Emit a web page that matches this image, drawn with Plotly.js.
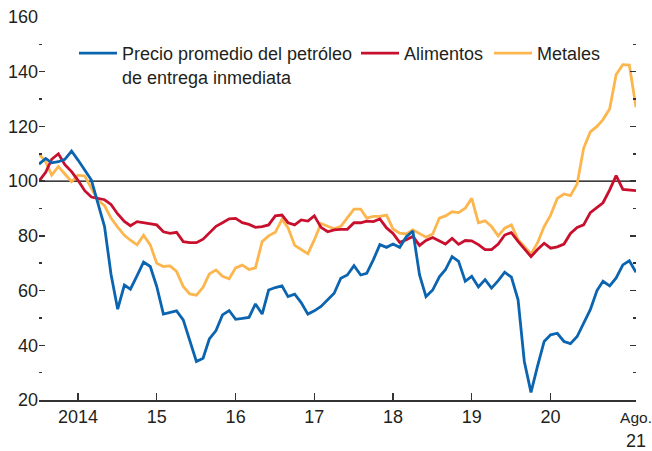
<!DOCTYPE html>
<html>
<head>
<meta charset="utf-8">
<script src="https://cdn.plot.ly/plotly-3.0.1.min.js"></script>
<style>
  html, body { margin: 0; padding: 0; background: #fff; }
  #chart { width: 652px; height: 451px; }
</style>
</head>
<body>
<div id="chart"></div>
<script>
// Monthly series, Jan 2014 – Aug 2021
const startYear = 2014, startMonth = 1;

const oil = [
  106.2, 108.3, 106.7, 107.1, 108.0, 111.0, 107.7, 104.0, 100.4, 92.0, 83.4, 66.0,
  53.2, 62.0, 60.5, 65.5, 70.4, 68.8, 61.5, 51.4, 52.0, 52.6, 49.3, 42.0,
  34.1, 35.3, 42.3, 45.4, 51.1, 52.7, 49.5, 49.8, 50.2, 55.1, 51.4, 60.2,
  61.1, 61.7, 57.8, 58.7, 55.6, 51.4, 52.6, 54.2, 56.6, 59.0, 64.5, 65.7,
  69.1, 65.7, 66.3, 71.3, 76.8, 75.8, 77.0, 75.8, 79.7, 81.8, 65.7, 57.8,
  60.2, 65.0, 67.6, 72.4, 70.7, 63.4, 65.2, 61.3, 64.0, 60.9, 63.6, 66.7,
  64.9, 56.6, 34.1, 22.8, 32.3, 41.4, 43.8, 44.4, 41.4, 40.6, 43.2, 48.3,
  53.0, 60.0, 63.4, 61.7, 64.6, 69.4, 70.9, 66.7
];

const food = [
  100.0, 103.2, 108.0, 110.0, 106.0, 103.5, 100.3, 96.5, 94.2, 93.7, 93.2, 91.5,
  88.0, 85.3, 83.7, 85.2, 84.8, 84.3, 84.0, 81.5, 80.9, 81.3, 77.9, 77.5,
  77.5, 78.8, 81.0, 83.5, 84.8, 86.2, 86.4, 84.8, 84.2, 83.1, 83.4, 84.0,
  87.3, 87.6, 84.8, 84.0, 85.8, 85.4, 87.3, 83.1, 81.5, 82.2, 82.4, 82.4,
  84.8, 84.8, 85.4, 85.2, 86.2, 82.9, 80.9, 77.6, 78.6, 79.8, 76.5, 78.3,
  79.4, 78.2, 77.0, 79.1, 76.9, 78.3, 78.2, 76.8, 75.0, 75.0, 77.0, 80.3,
  81.2, 78.0, 75.1, 72.4, 75.0, 77.3, 75.5, 76.0, 77.0, 80.9, 83.1, 84.0,
  88.5, 90.4, 92.1, 96.8, 102.0, 97.0, 96.8, 96.5
];

const metals = [
  110.0, 107.0, 102.2, 105.3, 102.6, 99.8, 102.2, 101.9, 97.4, 93.1, 91.0, 86.5,
  83.2, 80.2, 78.4, 76.7, 80.2, 76.7, 70.0, 68.8, 69.0, 67.0, 61.5, 58.8,
  58.3, 61.2, 66.1, 67.5, 65.2, 64.3, 68.3, 69.3, 67.7, 68.3, 77.9, 80.0,
  81.3, 86.0, 83.0, 76.5, 75.0, 73.5, 78.5, 84.5, 83.5, 82.6, 83.5, 86.5,
  89.8, 89.8, 86.5, 87.1, 87.1, 87.6, 82.5, 81.0, 80.7, 82.2, 80.7, 79.5,
  80.7, 86.5, 87.3, 88.8, 88.5, 90.1, 93.7, 84.8, 85.5, 83.4, 80.0, 82.8,
  84.0, 78.6, 76.1, 73.4, 77.4, 83.4, 87.6, 93.7, 95.3, 94.7, 99.0, 112.0,
  118.0, 120.0, 122.5, 126.5, 139.0, 142.6, 142.4, 127.0
];

const seriesNames = [
  'Precio promedio del petróleo<br>de entrega inmediata',
  'Alimentos',
  'Metales'
];

const xTickVals = ['2014-07-01', '2015-07-01', '2016-07-01', '2017-07-01',
                   '2018-07-01', '2019-07-01', '2020-07-01', '2021-08-01'];
const xTickText = ['2014', '15', '16', '17', '18', '19', '20',
                   '<span style="font-size:15.5px">Ago.</span><br>21'];
const yTickVals = [20, 40, 60, 80, 100, 120, 140, 160];
const referenceLevel = 100;

function monthDates(n) {
  const out = [];
  for (let i = 0; i < n; i++) {
    const y = startYear + Math.floor((startMonth - 1 + i) / 12);
    const m = ((startMonth - 1 + i) % 12) + 1;
    out.push(y + '-' + String(m).padStart(2, '0') + '-01');
  }
  return out;
}
const dates = monthDates(oil.length);

const colors = { oil: '#0b64b0', food: '#c8102e', metals: '#fcb64d' };
const txt = '#231f20';
const fontFam = 'Arial, "Liberation Sans", sans-serif';

const traces = [
  { x: dates, y: metals, name: seriesNames[2], type: 'scatter', mode: 'lines',
    line: { color: colors.metals, width: 2.8 }, legend: 'legend3' },
  { x: dates, y: food, name: seriesNames[1], type: 'scatter', mode: 'lines',
    line: { color: colors.food, width: 2.8 }, legend: 'legend2' },
  { x: dates, y: oil, name: seriesNames[0], type: 'scatter', mode: 'lines',
    line: { color: colors.oil, width: 2.8 }, legend: 'legend' }
];

const legBase = {
  xanchor: 'left', yanchor: 'top', bgcolor: 'rgba(0,0,0,0)',
  font: { family: fontFam, size: 18, color: txt }, valign: 'top',
  borderwidth: 0, itemwidth: 38
};

const layout = {
  width: 652, height: 451,
  margin: { l: 39, r: 16, t: 17, b: 51 },
  paper_bgcolor: '#fff', plot_bgcolor: '#fff',
  font: { family: fontFam, size: 18, color: txt },
  showlegend: true,
  legend: Object.assign({}, legBase, { x: 0.0586, y: 0.953 }),
  legend2: Object.assign({}, legBase, { x: 0.531, y: 0.953 }),
  legend3: Object.assign({}, legBase, { x: 0.7538, y: 0.953 }),
  xaxis: {
    type: 'date',
    range: ['2014-01-01', '2021-08-01'],
    tickmode: 'array', tickvals: xTickVals, ticktext: xTickText,
    ticks: 'inside', ticklen: 7, tickwidth: 1.5, tickcolor: '#333',
    showline: true, linecolor: '#333', linewidth: 1.5,
    showgrid: false, zeroline: false,
    ticklabeloverflow: 'allow',
    tickfont: { family: fontFam, size: 18, color: txt }
  },
  yaxis: {
    range: [20, 160],
    tickmode: 'array', tickvals: yTickVals,
    ticks: 'inside', ticklen: 6, tickwidth: 1.5, tickcolor: '#333',
    mirror: 'ticks',
    minor: { ticks: 'inside', ticklen: 3, tickwidth: 1.5, tickcolor: '#333', dtick: 10, tick0: 20, showgrid: false },
    showline: false, showgrid: false, zeroline: false,
    tickfont: { family: fontFam, size: 18, color: txt }
  },
  shapes: [
    { type: 'line', xref: 'paper', x0: 0, x1: 1, yref: 'y', y0: referenceLevel, y1: referenceLevel,
      line: { color: '#000', width: 1.2 }, layer: 'below' }
  ]
};

Plotly.newPlot('chart', traces, layout, { staticPlot: true, displayModeBar: false });
</script>
</body>
</html>
